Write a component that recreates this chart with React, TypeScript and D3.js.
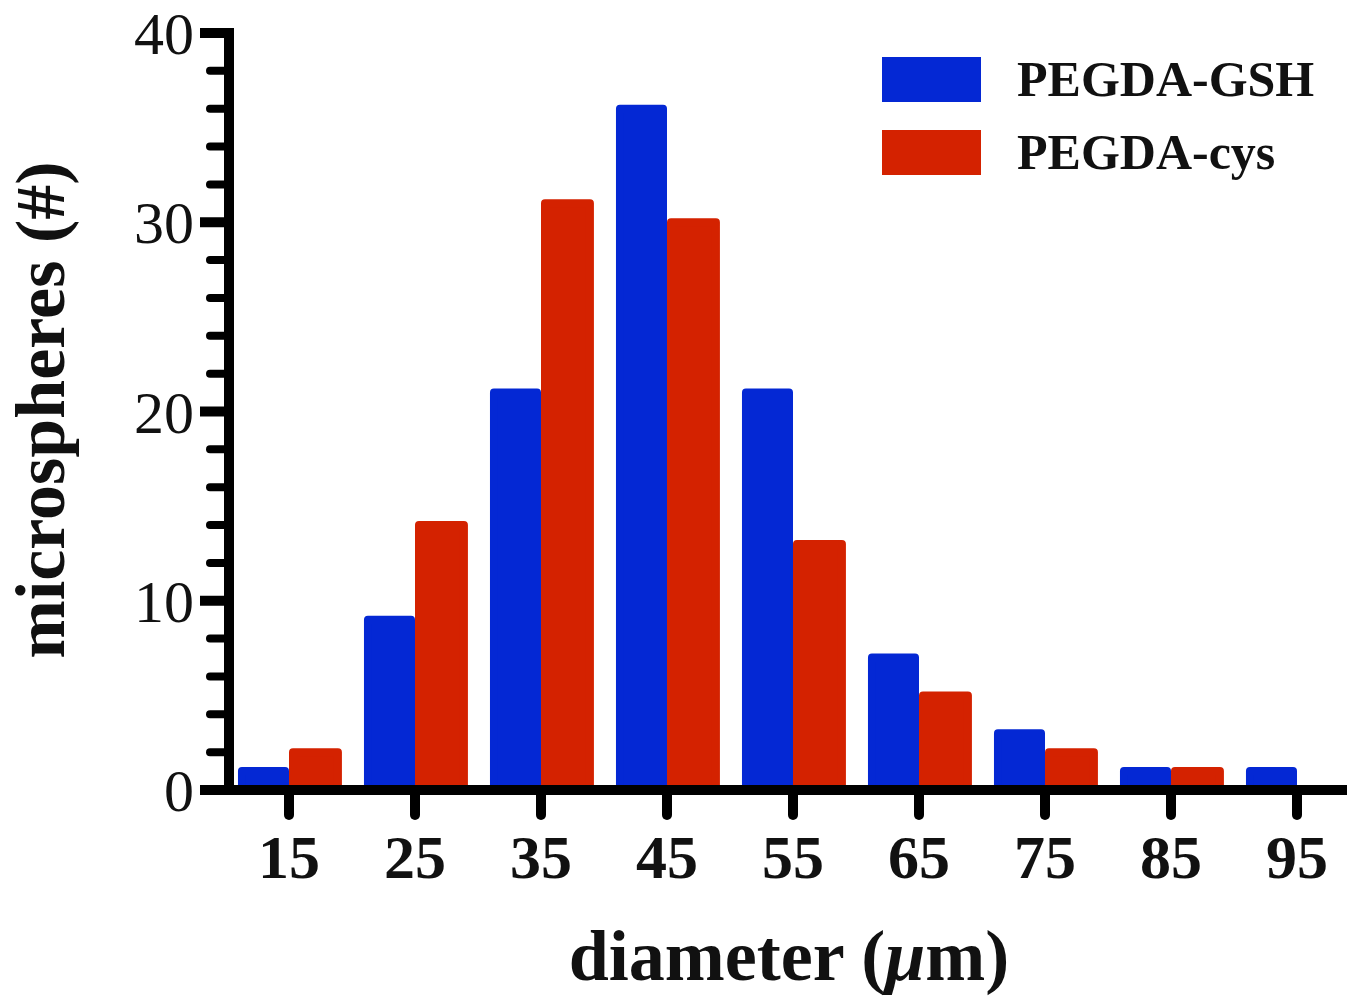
import React from 'react';
import * as d3 from 'd3';

// diameter bins (µm) and microsphere counts per bin
const diameters = [15, 25, 35, 45, 55, 65, 75, 85, 95];
const gshCounts = [1, 9, 21, 36, 21, 7, 3, 1, 1];
const cysCounts = [2, 14, 31, 30, 13, 5, 2, 1, 0];
const yMajorTicks = [0, 10, 20, 30, 40];
const seriesNames = ['PEGDA-GSH', 'PEGDA-cys'];

const BLUE = '#0428d4';
const RED = '#d42200';
const FONT = '"Liberation Serif", "Times New Roman", serif';

export default function App() {
  const width = 1347;
  const height = 1004;

  const x = d3.scaleLinear().domain([10, 100]).range([226, 1360]);
  const y = d3.scaleLinear().domain([0, 40]).range([790, 33]);

  const yMinorTicks = d3.range(0, 41, 2).filter(t => t % 10 !== 0);
  const axisX = x(10) + 3;
  const stroke = 8; // bars get a same-colour stroke, gives the soft rounded corners

  const bar = (x0: number, x1: number, v: number, color: string, key: string) => {
    if (v <= 0) return null;
    return (
      <rect
        key={key}
        x={x0 + stroke / 2}
        y={y(v)}
        width={x1 - x0 - stroke}
        height={y(0) - y(v)}
        fill={color}
        stroke={color}
        strokeWidth={stroke}
        strokeLinejoin="round"
      />
    );
  };

  return (
    <svg
      width={width}
      height={height}
      style={{ position: 'absolute', left: 0, top: 0, background: '#fff' }}
      fontFamily={FONT}
    >
      {/* bars */}
      <g>
        {diameters.map((d, i) => bar(x(d - 4.05), x(d), gshCounts[i], BLUE, `g${d}`))}
        {diameters.map((d, i) => bar(x(d), x(d + 4.2), cysCounts[i], RED, `c${d}`))}
      </g>

      {/* y axis */}
      <g stroke="#000">
        <line x1={axisX} x2={axisX} y1={y(40) - 5} y2={y(0)} strokeWidth={10} />
        {yMajorTicks.map(t => (
          <line key={t} x1={200} x2={axisX} y1={y(t)} y2={y(t)} strokeWidth={10} />
        ))}
        {yMinorTicks.map(t => (
          <line key={t} x1={210} x2={axisX} y1={y(t)} y2={y(t)} strokeWidth={8} strokeLinecap="round" />
        ))}
      </g>
      <g fontSize={60} textAnchor="end" fill="#111">
        {yMajorTicks.map(t => (
          <text key={t} x={194} y={y(t)} dy="0.35em">{t}</text>
        ))}
      </g>

      {/* x axis */}
      <g stroke="#000">
        <line x1={200} x2={1360} y1={y(0)} y2={y(0)} strokeWidth={10} />
        {diameters.map(d => (
          <line key={d} x1={x(d)} x2={x(d)} y1={y(0)} y2={y(0) + 25} strokeWidth={10} strokeLinecap="round" />
        ))}
      </g>
      <g fontSize={62} fontWeight="bold" textAnchor="middle" fill="#111">
        {diameters.map(d => (
          <text key={d} x={x(d)} y={878}>{d}</text>
        ))}
      </g>

      {/* axis titles */}
      <text x={789} y={980} fontSize={72} fontWeight="bold" textAnchor="middle" fill="#111">
        diameter (<tspan fontStyle="italic">μ</tspan>m)
      </text>
      <text
        transform="translate(64,410) rotate(-90)"
        fontSize={70}
        fontWeight="bold"
        textAnchor="middle"
        fill="#111"
      >
        microspheres (#)
      </text>

      {/* legend */}
      <g>
        {seriesNames.map((name, i) => (
          <g key={name} transform={`translate(0,${i * 73})`}>
            <rect x={882} y={57} width={99} height={45} fill={i === 0 ? BLUE : RED} />
            <text x={1017} y={96} fontSize={50} fontWeight="bold" fill="#111">{name}</text>
          </g>
        ))}
      </g>
    </svg>
  );
}
